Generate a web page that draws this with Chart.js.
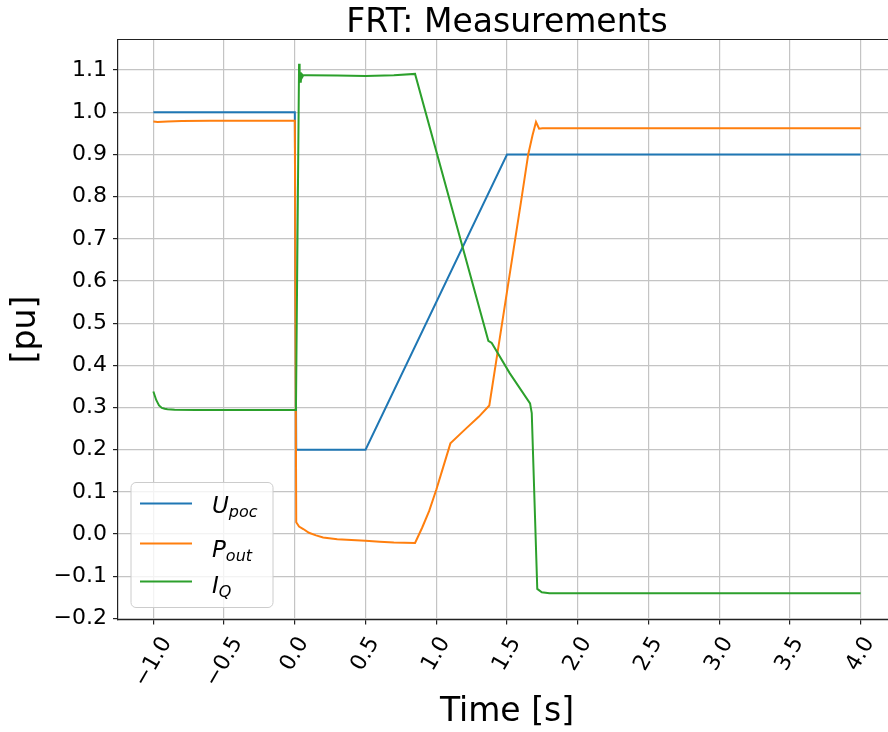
<!DOCTYPE html>
<html>
<head>
<meta charset="utf-8">
<title>FRT: Measurements</title>
<script src="https://cdn.jsdelivr.net/npm/chart.js@4.4.1/dist/chart.umd.min.js"></script>
<style>
  html, body { margin: 0; padding: 0; background: #fff; overflow: hidden; }
  canvas { display: block; }
</style>
</head>
<body>
<canvas id="frt-chart" width="900" height="732"></canvas>
<script>
//-- Data//
const uTime = [-1.0, 0.0, 0.01, 0.5, 1.5, 4.0];
const uVals = [1.0, 1.0, 0.2, 0.2, 0.9, 0.9];

const pTime = [-1.0, -0.97, -0.9, -0.8, -0.6, -0.3, 0.0, 0.005, 0.01, 0.03, 0.06, 0.1, 0.15, 0.2,
    0.3, 0.4, 0.5, 0.6, 0.7, 0.85, 0.9, 0.95, 1.0, 1.05, 1.1, 1.2, 1.3, 1.375, 1.5, 1.6, 1.65,
    1.68, 1.705, 1.727, 1.75, 4.0];
const pVals = [0.978, 0.977, 0.978, 0.979, 0.980, 0.980, 0.980, 0.5, 0.028, 0.018, 0.012, 0.003,
    -0.003, -0.008, -0.012, -0.014, -0.016, -0.018, -0.020, -0.021, 0.015, 0.055, 0.105, 0.16,
    0.215, 0.247, 0.278, 0.305, 0.575, 0.79, 0.90, 0.945, 0.977, 0.961, 0.962, 0.962];

const qTime = [-1.0, -0.98, -0.96, -0.94, -0.92, -0.9, -0.85, -0.7, 0.0, 0.008, 0.03, 0.034,
    0.038, 0.042, 0.046, 0.05, 0.06, 0.1, 0.3, 0.5, 0.7, 0.85, 1.368, 1.392, 1.52, 1.663, 1.675,
    1.714, 1.746, 1.8, 4.0];
const qVals = [0.338, 0.318, 0.305, 0.299, 0.297, 0.296, 0.295, 0.294, 0.294, 0.294, 1.115, 1.075,
    1.095, 1.07, 1.092, 1.082, 1.088, 1.088, 1.087, 1.086, 1.088, 1.091, 0.458, 0.453, 0.381,
    0.310, 0.287, -0.130, -0.138, -0.140, -0.140];

const seriesNames = ['U', 'P', 'I'];
const seriesSubs = ['poc', 'out', 'Q'];
const seriesColors = ['#1f77b4', '#ff7f0e', '#2ca02c'];

const xTicks = [-1.0, -0.5, 0.0, 0.5, 1.0, 1.5, 2.0, 2.5, 3.0, 3.5, 4.0];
const yTicks = [-0.2, -0.1, 0.0, 0.1, 0.2, 0.3, 0.4, 0.5, 0.6, 0.7, 0.8, 0.9, 1.0, 1.1];

const chartTitle = 'FRT: Measurements';

const FONT = 'DejaVu Sans';
// matplotlib style labels use a real minus sign
const fmt = v => v.toFixed(1).replace('-', '\u2212');
const toPoints = (ts, vs) => ts.map((t, i) => ({ x: t, y: vs[i] }));

//-- Plugins//
// title centred over the axes, not over the whole canvas
const axesTitle = {
    id: 'axesTitle',
    afterDraw(chart) {
        const { ctx, chartArea } = chart;
        ctx.save();
        ctx.font = `33px ${FONT}`;
        ctx.fillStyle = '#000';
        ctx.textAlign = 'center';
        ctx.textBaseline = 'middle';
        ctx.fillText(chartTitle, (chartArea.left + chartArea.right) / 2, 23);
        ctx.restore();
    }
};

// rotated x tick labels, centred under the tick like matplotlib does it
const xLabels = {
    id: 'xLabels',
    afterDraw(chart) {
        const { ctx, chartArea } = chart;
        const scale = chart.scales.x;
        const size = 22;
        const ang = Math.PI / 3;
        ctx.save();
        ctx.font = `${size}px ${FONT}`;
        ctx.fillStyle = '#000';
        ctx.textAlign = 'center';
        ctx.textBaseline = 'middle';
        for (const tick of scale.ticks) {
            const text = fmt(tick.value);
            const w = ctx.measureText(text).width;
            const h = size * 1.17;
            const boxH = w * Math.sin(ang) + h * Math.cos(ang);
            const cx = scale.getPixelForValue(tick.value);
            const cy = chartArea.bottom + 13 + boxH / 2;
            ctx.save();
            ctx.translate(cx, cy);
            ctx.rotate(-ang);
            ctx.fillText(text, 0, 0);
            ctx.restore();
        }
        ctx.restore();
    }
};

// top spine (the right one lies past the window edge)
const topSpine = {
    id: 'topSpine',
    afterDatasetsDraw(chart) {
        const { ctx, chartArea } = chart;
        ctx.save();
        ctx.strokeStyle = '#222';
        ctx.lineWidth = 1.2;
        ctx.beginPath();
        ctx.moveTo(chartArea.left, chartArea.top);
        ctx.lineTo(chartArea.right, chartArea.top);
        ctx.stroke();
        ctx.restore();
    }
};

// legend box in the lower left corner, with subscripts
const subLegend = {
    id: 'subLegend',
    afterDatasetsDraw(chart) {
        const { ctx, chartArea } = chart;
        const left = chartArea.left + 13;
        const top = chartArea.bottom - 137;
        const width = 142;
        const height = 125;
        ctx.save();
        ctx.beginPath();
        ctx.roundRect(left, top, width, height, 5);
        ctx.fillStyle = 'rgba(255,255,255,0.8)';
        ctx.fill();
        ctx.strokeStyle = '#cccccc';
        ctx.lineWidth = 1;
        ctx.stroke();

        const rows = [21, 61, 99];
        const baseShift = [9, 13, 11];
        chart.data.datasets.forEach((ds, i) => {
            const y = top + rows[i];
            ctx.strokeStyle = ds.borderColor;
            ctx.lineWidth = 2;
            ctx.beginPath();
            ctx.moveTo(left + 9, y);
            ctx.lineTo(left + 61, y);
            ctx.stroke();

            ctx.fillStyle = '#000';
            ctx.textAlign = 'left';
            ctx.textBaseline = 'alphabetic';
            ctx.font = `italic 23px ${FONT}`;
            const tx = left + 81;
            const base = y + baseShift[i];
            ctx.fillText(seriesNames[i], tx, base);
            const mw = ctx.measureText(seriesNames[i]).width;
            ctx.font = `italic 16px ${FONT}`;
            ctx.fillText(seriesSubs[i], tx + mw, base + 4.5);
        });
        ctx.restore();
    }
};

//-- Chart//
const datasets = [
    toPoints(uTime, uVals),
    toPoints(pTime, pVals),
    toPoints(qTime, qVals)
].map((data, i) => ({
    label: `${seriesNames[i]}_${seriesSubs[i]}`,
    data,
    borderColor: seriesColors[i],
    backgroundColor: seriesColors[i],
    borderWidth: 2,
    pointRadius: 0,
    tension: 0,
    order: 3 - i
}));

const gridOpts = {
    color: '#c4c4c4',
    lineWidth: 1.2,
    drawTicks: true,
    tickLength: 5,
    tickColor: '#222',
    tickWidth: 1.2
};

const ctx = document.getElementById('frt-chart');

new Chart(ctx, {
    type: 'line',
    data: { datasets },
    options: {
        responsive: false,
        animation: false,
        events: [],
        layout: { padding: { left: 0, right: 4, top: 39.5, bottom: 0 } },
        plugins: {
            legend: { display: false },
            tooltip: { enabled: false },
            title: { display: false }
        },
        scales: {
            x: {
                type: 'linear',
                min: -1.25,
                max: 4.25,
                afterBuildTicks: scale => {
                    scale.ticks = xTicks.map(v => ({ value: v }));
                },
                afterFit: scale => {
                    scale.height = 112.5;
                },
                ticks: { display: false },
                grid: gridOpts,
                border: { display: true, color: '#222', width: 1.2 },
                title: {
                    display: true,
                    text: 'Time [s]',
                    color: '#000',
                    font: { family: FONT, size: 33 },
                    padding: { top: 0, bottom: 0 }
                }
            },
            y: {
                type: 'linear',
                min: -0.2025,
                max: 1.1725,
                afterBuildTicks: scale => {
                    scale.ticks = yTicks.map(v => ({ value: v }));
                },
                afterFit: scale => {
                    scale.width = 118;
                },
                ticks: {
                    color: '#000',
                    padding: 6,
                    font: { family: FONT, size: 22 },
                    callback: v => fmt(v)
                },
                grid: gridOpts,
                border: { display: true, color: '#222', width: 1.2 },
                title: {
                    display: true,
                    text: '[pu]',
                    color: '#000',
                    font: { family: FONT, size: 33 },
                    padding: { top: 7, bottom: 0 }
                }
            }
        }
    },
    plugins: [axesTitle, xLabels, topSpine, subLegend]
});
</script>
</body>
</html>
